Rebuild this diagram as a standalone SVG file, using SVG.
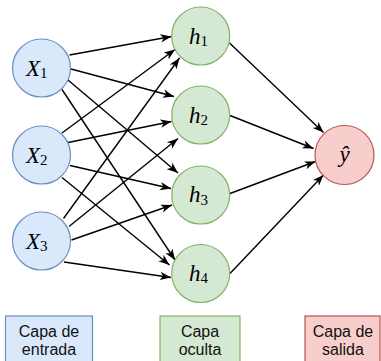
<svg xmlns="http://www.w3.org/2000/svg" width="381" height="361" viewBox="0 0 381 361">
<style>
.in{fill:#dae8fc;stroke:#6c8ebf;stroke-width:1.2}
.hid{fill:#d5e8d4;stroke:#82b366;stroke-width:1.2}
.out{fill:#f8cecc;stroke:#b85450;stroke-width:1.2}
.e{stroke:#000;stroke-width:1.4;fill:none;marker-end:url(#arr)}
.m{font-family:"Liberation Serif","DejaVu Serif",serif;font-style:italic;font-size:23px;fill:#000}
.s{font-style:normal;font-size:15px}
.lbl{font-family:"Liberation Sans",Arial,sans-serif;font-size:16px;fill:#111;text-anchor:middle}
</style>
<defs>
<marker id="arr" markerUnits="userSpaceOnUse" markerWidth="12" markerHeight="10" viewBox="0 0 12 10" refX="11" refY="5" orient="auto">
<path d="M0,0.8 L11,5 L0,9.2 L3,5 Z" fill="#000"/>
</marker>
</defs>
<g id="connectors">
<line class="e" x1="69.5" y1="55" x2="171.5" y2="36.5"/>
<line class="e" x1="71" y1="69" x2="174" y2="96.5"/>
<line class="e" x1="68" y1="80" x2="178" y2="173"/>
<line class="e" x1="62" y1="89.5" x2="175" y2="260"/>
<line class="e" x1="62" y1="133" x2="175" y2="49.5"/>
<line class="e" x1="68" y1="142.5" x2="171.5" y2="121.5"/>
<line class="e" x1="70" y1="165.5" x2="171" y2="188.5"/>
<line class="e" x1="62" y1="177.5" x2="169.5" y2="265"/>
<line class="e" x1="63.5" y1="218.5" x2="179.5" y2="58"/>
<line class="e" x1="69" y1="226.5" x2="178" y2="138.5"/>
<line class="e" x1="71.5" y1="240" x2="172" y2="205"/>
<line class="e" x1="64" y1="262" x2="171" y2="277.5"/>
<line class="e" x1="229.5" y1="43" x2="323.5" y2="132.5"/>
<line class="e" x1="230" y1="115.5" x2="313.5" y2="148.5"/>
<line class="e" x1="230" y1="193.5" x2="315.5" y2="161.5"/>
<line class="e" x1="230" y1="273.5" x2="323.5" y2="175"/>
</g>
<g id="x1"><circle class="in" cx="41.5" cy="68" r="29"/><text class="m" x="26" y="75.5">X<tspan class="s" dy="2.5">1</tspan></text></g>
<g id="x2"><circle class="in" cx="41.5" cy="155" r="29"/><text class="m" x="26" y="162.5">X<tspan class="s" dy="2.5">2</tspan></text></g>
<g id="x3"><circle class="in" cx="41.5" cy="241" r="29"/><text class="m" x="26" y="248.5">X<tspan class="s" dy="2.5">3</tspan></text></g>
<g id="h1"><circle class="hid" cx="200.7" cy="36" r="29"/><text class="m" x="189" y="43.5">h<tspan class="s" dy="2.5">1</tspan></text></g>
<g id="h2"><circle class="hid" cx="200.7" cy="115" r="29"/><text class="m" x="189" y="122.5">h<tspan class="s" dy="2.5">2</tspan></text></g>
<g id="h3"><circle class="hid" cx="200.7" cy="195" r="29"/><text class="m" x="189" y="202">h<tspan class="s" dy="2.5">3</tspan></text></g>
<g id="h4"><circle class="hid" cx="200.7" cy="273.5" r="29"/><text class="m" x="189" y="280.5">h<tspan class="s" dy="2.5">4</tspan></text></g>
<g id="yhat"><circle class="out" cx="344.5" cy="155" r="29.5"/><text class="m" x="344.5" y="162" text-anchor="middle">ŷ</text></g>
<g id="capa-entrada"><rect class="in" x="5.5" y="316" width="87" height="60"/><text class="lbl" x="49" y="336.7">Capa de</text><text class="lbl" x="49" y="355">entrada</text></g>
<g id="capa-oculta"><rect class="hid" x="160" y="316" width="80" height="60"/><text class="lbl" x="200" y="336.7">Capa</text><text class="lbl" x="200" y="355">oculta</text></g>
<g id="capa-salida"><rect class="out" x="305" y="316" width="75" height="60"/><text class="lbl" x="343" y="336.7">Capa de</text><text class="lbl" x="343" y="355">salida</text></g>
</svg>
